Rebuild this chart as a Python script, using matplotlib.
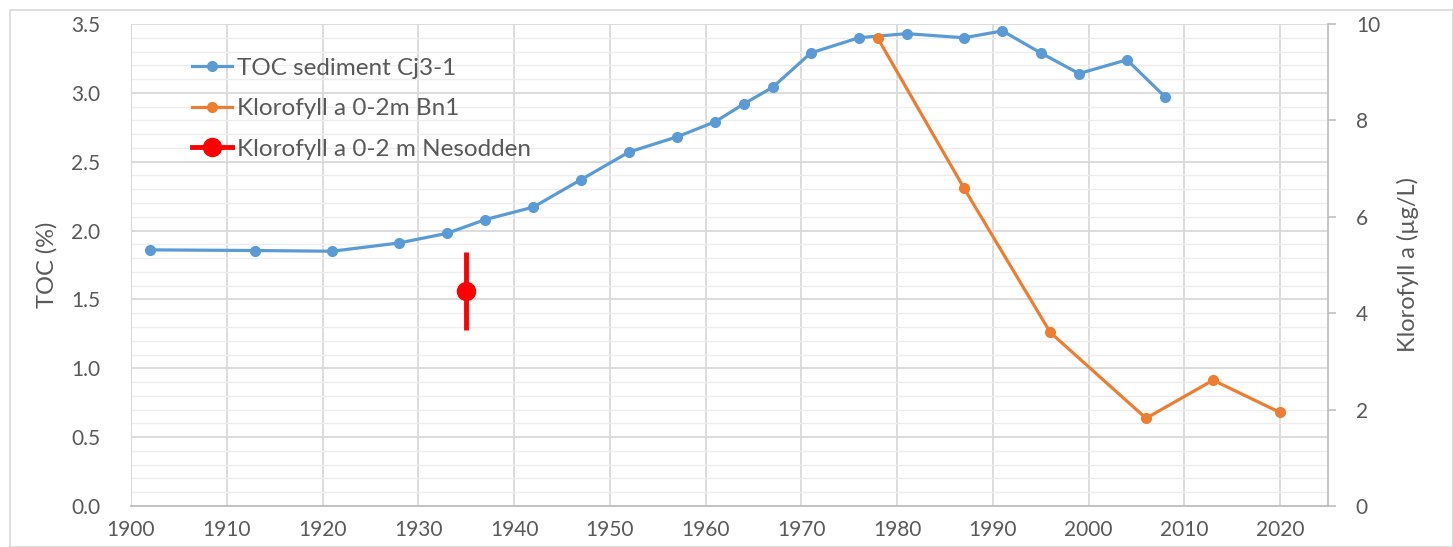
import numpy as np
import matplotlib.pyplot as plt
from matplotlib.lines import Line2D
from matplotlib.patches import Rectangle

# TOC in sediment core Cj3-1 (left axis, %)
toc_year = [1902, 1913, 1921, 1928, 1933, 1937, 1942, 1947, 1952, 1957, 1961,
            1964, 1967, 1971, 1976, 1981, 1987, 1991, 1995, 1999, 2004, 2008]
toc_value = [1.86, 1.855, 1.85, 1.91, 1.98, 2.08, 2.17, 2.37, 2.57, 2.68, 2.79,
             2.92, 3.04, 3.29, 3.40, 3.43, 3.40, 3.45, 3.29, 3.14, 3.24, 2.97]

# Klorofyll a 0-2m Bn1 (right axis, ug/L)
bn1_year = [1978, 1987, 1996, 2006, 2013, 2020]
bn1_value = [9.70, 6.59, 3.60, 1.82, 2.61, 1.94]

# Klorofyll a 0-2 m Nesodden, single point with error bar
nes_year = [1935]
nes_value = [4.46]
nes_err = [0.80]

labels = ["TOC sediment Cj3-1", "Klorofyll a 0-2m Bn1", "Klorofyll a 0-2 m Nesodden"]

BLUE = "#5B9BD5"
ORANGE = "#ED7D31"
RED = "#FF0000"
TXT = "#595959"
GRID = "#D9D9D9"
GRID_MINOR = "#EDEDED"

plt.rcParams["font.family"] = ["Lato", "DejaVu Sans"]

fig = plt.figure(figsize=(14.53, 5.47), dpi=100)
fig.patches.append(Rectangle((10 / 1453, 0), 1 - 10 / 1453, 1 - 10 / 547,
                             transform=fig.transFigure, fill=False,
                             edgecolor="#D9D9D9", lw=1.2))
ax1 = fig.add_axes([131 / 1453, 1 - 506 / 547, (1328 - 131) / 1453, (506 - 24) / 547])
ax2 = ax1.twinx()

ax1.set_xlim(1900, 2025)
ax1.set_ylim(0, 3.5)
ax2.set_ylim(0, 10)

ax1.set_xticks(np.arange(1900, 2021, 10))
ax1.set_yticks(np.arange(0, 3.51, 0.5))
ax1.set_yticks(np.arange(0, 3.51, 0.1), minor=True)
ax1.yaxis.set_major_formatter(plt.FormatStrFormatter("%.1f"))
ax2.set_yticks(np.arange(0, 10.1, 2))

ax1.grid(True, which="major", axis="both", color=GRID, lw=1.3)
ax1.grid(True, which="minor", axis="y", color=GRID_MINOR, lw=1.0)
ax1.set_axisbelow(True)

ax1.spines["top"].set_visible(False)
ax1.spines["right"].set_visible(False)
ax2.spines["top"].set_visible(False)
ax2.spines["left"].set_visible(False)
ax2.spines["bottom"].set_visible(False)
ax1.spines["left"].set_color(GRID)
ax1.spines["bottom"].set_color("#BFBFBF")
ax1.spines["bottom"].set_linewidth(1.3)
ax2.spines["right"].set_color("#BFBFBF")
ax2.spines["right"].set_linewidth(1.3)

ax1.tick_params(axis="y", which="both", length=0, pad=22, labelsize=15, labelcolor=TXT)
ax1.tick_params(axis="x", length=0, pad=10, labelsize=15, labelcolor=TXT)
ax2.tick_params(axis="y", length=6, width=1.2, color="#BFBFBF", pad=14,
                labelsize=15, labelcolor=TXT)

ax1.set_ylabel("TOC (%)", fontsize=17, color=TXT, labelpad=10)
ax2.set_ylabel("Klorofyll a (µg/L)", fontsize=17, color=TXT, labelpad=12)

ax1.plot(toc_year, toc_value, color=BLUE, lw=2.3, marker="o", ms=7)
ax2.plot(bn1_year, bn1_value, color=ORANGE, lw=2.3, marker="o", ms=7)
ax2.errorbar(nes_year, nes_value, yerr=nes_err, color=RED, ecolor=RED,
             elinewidth=3.5, capsize=0, marker="o", ms=13, ls="none")

handles = [
    Line2D([], [], color=BLUE, lw=2.3, marker="o", ms=7),
    Line2D([], [], color=ORANGE, lw=2.3, marker="o", ms=7),
    Line2D([], [], color=RED, lw=3.5, marker="o", ms=13),
]
ax1.legend(handles, labels, loc="upper left", bbox_to_anchor=(0.033, 0.975),
           frameon=False, fontsize=17.5, labelcolor=TXT, handlelength=1.65,
           handletextpad=0.2, labelspacing=0.8)

fig.savefig("out.png", dpi=100)
